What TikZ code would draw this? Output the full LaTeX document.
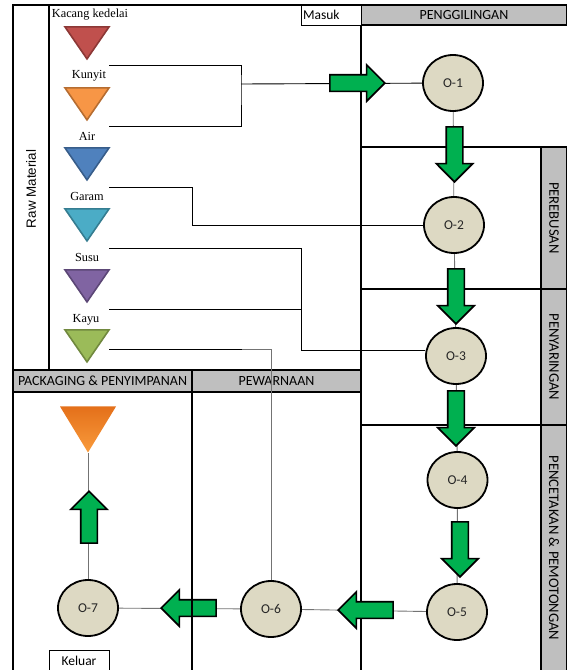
\documentclass[tikz,border=0pt]{standalone}
\usepackage{fontspec}
\setmainfont{Carlito}
\newfontfamily\rawfont{Liberation Serif}
\newfontfamily\sidefont{Liberation Sans}
\usetikzlibrary{shapes.geometric,shapes.arrows}

\definecolor{flowgreen}{HTML}{00B050}
\definecolor{opfill}{HTML}{DDD9C3}
\definecolor{hdrgray}{HTML}{BFBFBF}
\definecolor{kedelaifill}{HTML}{C0504D}
\definecolor{kedelaiedge}{HTML}{8C3836}
\definecolor{kunyitfill}{HTML}{F79646}
\definecolor{kunyitedge}{HTML}{B66D31}
\definecolor{airfill}{HTML}{4F81BD}
\definecolor{airedge}{HTML}{385D8A}
\definecolor{garamfill}{HTML}{4BACC6}
\definecolor{garamedge}{HTML}{357D91}
\definecolor{susufill}{HTML}{8064A2}
\definecolor{susuedge}{HTML}{5C4776}
\definecolor{kayufill}{HTML}{9BBB59}
\definecolor{kayuedge}{HTML}{71893F}
\definecolor{outtop}{HTML}{E4701A}
\definecolor{outbottom}{HTML}{F99B3C}

\pgfdeclarelayer{back}
\pgfdeclarelayer{links}
\pgfsetlayers{back,links,main}

\begin{document}
\begin{tikzpicture}[x=1pt,y=-1pt,
  frame/.style={line width=2pt},
  sep/.style={line width=1.2pt},
  header/.style={draw,line width=1.6pt,fill=hdrgray,inner sep=0pt,font=\fontsize{14}{16}\selectfont},
  sidebar/.style={header,rotate=-90,minimum height=26,font=\fontsize{14.6}{16}\selectfont},
  plainbox/.style={draw,line width=0.8pt,fill=white,inner sep=0pt,font=\fontsize{13.5}{15}\selectfont},
  op/.style={ellipse,draw,line width=1.8pt,fill=opfill,minimum width=60,minimum height=56,inner sep=0pt,text=black!85,font=\fontsize{13.5}{15}\selectfont},
  rawtri/.style={isosceles triangle,isosceles triangle stretches,shape border rotate=270,minimum width=44,minimum height=32,inner sep=0pt,line width=1.6pt,anchor=apex},
  rawname/.style={anchor=base,inner sep=0pt,font=\rawfont\fontsize{12.3}{14}\selectfont},
  flow/.style={single arrow,draw,line width=1.6pt,fill=flowgreen,minimum width=35,minimum height=55,single arrow head extend=10,inner sep=7.5pt,anchor=tip},
  link/.style={draw,line width=0.9pt},
  glink/.style={draw=black!55,line width=0.9pt}]
\useasboundingbox (0,0) rectangle (567,670);

\begin{pgfonlayer}{back}
\draw[frame] (13,672) -- (13,5) -- (567,5);
\draw[frame] (49,5) -- (49,370);
\draw[sep] (361,25) -- (361,672);
\draw[sep] (361,147) -- (541,147);
\draw[sep] (361,289) -- (541,289);
\draw[sep] (361,425) -- (541,425);
\path (464,15) node[header,minimum width=206,minimum height=20] (penggilingan) {PENGGILINGAN};
\path (331,15) node[plainbox,minimum width=60,minimum height=20,text width=56,inner xsep=2] (masuk) {Masuk};
\path (554,218) node[sidebar,minimum width=142] (perebusan) {PEREBUSAN};
\path (554,357) node[sidebar,minimum width=136] (penyaringan) {PENYARINGAN};
\path (554,548) node[sidebar,minimum width=246] (pencetakan) {PENCETAKAN \& PEMOTONGAN};
\path (102.5,381) node[header,minimum width=179,minimum height=22] (packaging) {PACKAGING \& PENYIMPANAN};
\path (276.5,381) node[header,minimum width=169,minimum height=22] (pewarnaan) {PEWARNAAN};
\path (79,661) node[plainbox,minimum width=60,minimum height=22] (keluar) {Keluar};
\path (31,189) node[rotate=90,font=\sidefont\fontsize{13.4}{15}\selectfont] (raw) {Raw Material};
\end{pgfonlayer}

\path (87,61)  node[rawtri,fill=kedelaifill,draw=kedelaiedge] (kedelai) {};
\path (87,122) node[rawtri,fill=kunyitfill,draw=kunyitedge] (kunyit) {};
\path (87,182) node[rawtri,fill=airfill,draw=airedge] (air) {};
\path (87,243) node[rawtri,fill=garamfill,draw=garamedge] (garam) {};
\path (87,304) node[rawtri,fill=susufill,draw=susuedge] (susu) {};
\path (87,364) node[rawtri,fill=kayufill,draw=kayuedge] (kayu) {};
\path (90,17.5)  node[rawname] (lkedelai) {Kacang kedelai};
\path (89,78)    node[rawname] (lkunyit) {Kunyit};
\path (87,140)   node[rawname] (lair) {Air};
\path (87,200.7) node[rawname] (lgaram) {Garam};
\path (87,261.7) node[rawname] (lsusu) {Susu};
\path (86,322.7) node[rawname] (lkayu) {Kayu};

\path (88,453) node[isosceles triangle,isosceles triangle stretches,shape border rotate=270,minimum width=56,minimum height=46,inner sep=0pt,anchor=apex,top color=outtop,bottom color=outbottom] (out) {};

\path (453,83)    node[op] (O1) {O-1};
\path (454,225)   node[op] (O2) {O-2};
\path (456,356)   node[op] (O3) {O-3};
\path (457.5,480) node[op] (O4) {O-4};
\path (457,612)   node[op] (O5) {O-5};
\path (271,609)   node[op] (O6) {O-6};
\path (88,608)    node[op] (O7) {O-7};

\path (386,83)    node[flow] (a1) {};
\path (454.5,183) node[flow,shape border rotate=270] (a2) {};
\path (456,325)   node[flow,shape border rotate=270] (a3) {};
\path (456,447)   node[flow,shape border rotate=270] (a4) {};
\path (460,578)   node[flow,shape border rotate=270] (a5) {};
\path (337,610)   node[flow,shape border rotate=180] (a6) {};
\path (160,608)   node[flow,shape border rotate=180] (a7) {};
\path (89,490)    node[flow,shape border rotate=90,minimum height=52] (a8) {};

\draw[sep] (192,392) -- (192,672);

\coordinate (k1) at (109,65);
\coordinate (k2) at (109,126);
\coordinate (k3) at (109,187);
\coordinate (k4) at (109,248);
\coordinate (k5) at (109,309);
\coordinate (k6) at (109,349);
\coordinate (j1) at (241,84);
\coordinate (j2) at (192,225);
\coordinate (j3) at (301,350);
\coordinate (j4) at (242,349);

\begin{pgfonlayer}{links}
\draw[link] (k1) -| (j1) |- (k2);
\draw[link] (j1) to (O1);
\draw[link] (k3) -| (j2) to (O2);
\draw[link] (k4) -| (j3) to (j3 -| O3.west);
\draw[link] (k5) to (k5 -| j3);
\draw[link] (k6) to (j4);
\draw[glink] (j4) -| (O6);
\draw[glink] (O1) to (O2);
\draw[glink] (O2) to (O3);
\draw[glink] (O3) to (O4);
\draw[glink] (O4) to (O5);
\draw[glink] (O5) to (O6);
\draw[glink] (O6) to (O7);
\draw[glink] (O7) to (out.apex);
\end{pgfonlayer}
\end{tikzpicture}
\end{document}
